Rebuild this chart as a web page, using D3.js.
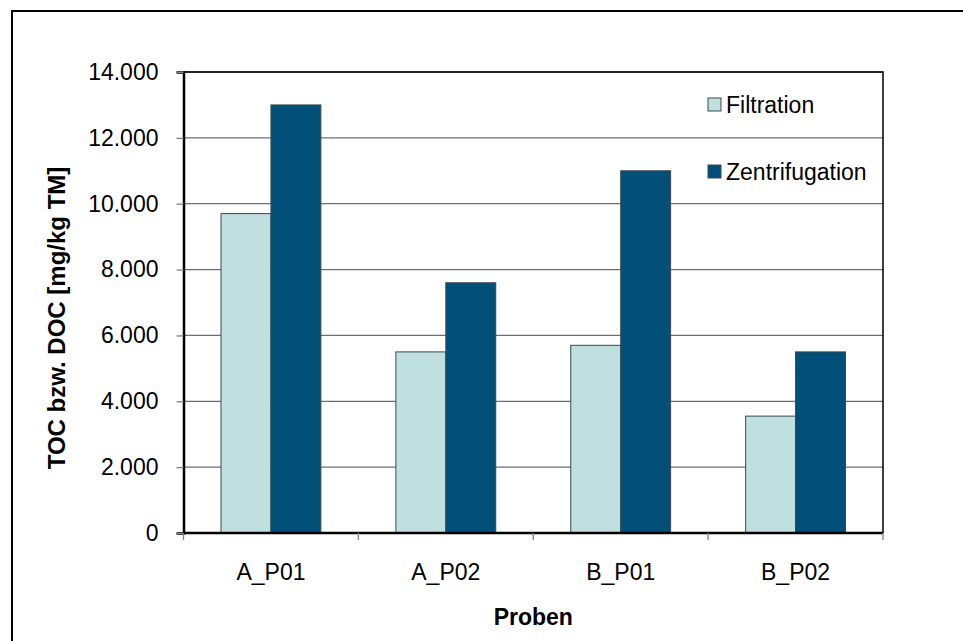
<!DOCTYPE html>
<html>
<head>
<meta charset="utf-8">
<script src="https://cdn.jsdelivr.net/npm/d3@7"></script>
<style>
	body { margin: 0; background: #fff; }
	svg { display: block; font-family: "Liberation Sans", Arial, sans-serif; }
</style>
</head>
<body>
<svg width="963" height="641"></svg>
<script>
// data
const categories = ['A_P01', 'A_P02', 'B_P01', 'B_P02'];
const series_names = ['Filtration', 'Zentrifugation'];
const filtration = [9700, 5500, 5700, 3550];
const zentrifugation = [13000, 7600, 11000, 5500];
const y_ticks = [0, 2000, 4000, 6000, 8000, 10000, 12000, 14000];
const colors = ['#c0dfdf', '#02507a'];

var svg = d3.select("svg");

// plot area (note: "top" is taken by window.top)
var p_left = 183.5, p_right = 883, p_top = 72, p_bottom = 533;

// german number format, 14.000
var de = d3.formatLocale({decimal: ",", thousands: ".", grouping: [3], currency: ["", " €"]});
var fmt = de.format(",");

var x0 = d3.scaleBand().domain(categories).range([p_left, p_right]).paddingInner(0).paddingOuter(0);
var x1 = d3.scaleBand().domain(series_names).range([37.5, x0.bandwidth() - 37.5]);
var y = d3.scaleLinear().domain([0, 14000]).range([p_bottom, p_top]);

// outer frame (runs off the picture on right and bottom)
svg.append("rect")
	.attr("x", 12).attr("y", 11)
	.attr("width", 1000).attr("height", 700)
	.attr("fill", "none").attr("stroke", "#000").attr("stroke-width", 2);

// gridlines
svg.append("g")
	.selectAll("line")
	.data(y_ticks.slice(1))
	.enter()
	.append("line")
	.attr("x1", p_left).attr("x2", p_right)
	.attr("y1", d => y(d)).attr("y2", d => y(d))
	.attr("stroke", "#6e6e6e").attr("stroke-width", 1.3);

// plot border top + right
svg.append("path")
	.attr("d", `M${p_left},${p_top}H${p_right}V${p_bottom}`)
	.attr("fill", "none").attr("stroke", "#000").attr("stroke-width", 1.5);

// bars
var data = categories.map((c, i) => ({cat: c, vals: [filtration[i], zentrifugation[i]]}));
svg.append("g")
	.selectAll("g")
	.data(data)
	.enter()
	.append("g")
	.attr("transform", d => `translate(${x0(d.cat)},0)`)
	.selectAll("rect")
	.data(d => d.vals.map((v, j) => ({name: series_names[j], value: v, j: j})))
	.enter()
	.append("rect")
	.attr("x", d => x1(d.name))
	.attr("y", d => y(d.value))
	.attr("width", x1.bandwidth())
	.attr("height", d => p_bottom - y(d.value))
	.attr("fill", d => colors[d.j])
	.attr("stroke", "#3a4a50").attr("stroke-width", 1);

// y axis
var yAxis = d3.axisLeft(y).tickValues(y_ticks).tickFormat(fmt).tickSize(7).tickPadding(18);
var gy = svg.append("g").attr("transform", `translate(${p_left},0)`).call(yAxis);
gy.select(".domain").attr("stroke", "#000").attr("stroke-width", 2.5);
gy.selectAll(".tick line").attr("stroke", "#808080").attr("stroke-width", 1.3);
gy.selectAll("text").attr("font-size", 23).attr("fill", "#000")
	.attr("font-family", '"Liberation Sans", Arial, sans-serif');

// x axis, ticks between the categories
var bounds = categories.map(c => x0(c)).concat([p_right]);
var gx = svg.append("g");
gx.append("line")
	.attr("x1", p_left).attr("x2", p_right).attr("y1", p_bottom).attr("y2", p_bottom)
	.attr("stroke", "#000").attr("stroke-width", 2.5);
gx.selectAll(".xt")
	.data(bounds)
	.enter()
	.append("line")
	.attr("class", "xt")
	.attr("x1", d => d).attr("x2", d => d)
	.attr("y1", p_bottom).attr("y2", p_bottom + 7)
	.attr("stroke", "#808080").attr("stroke-width", 1.3);
gx.selectAll("text")
	.data(categories)
	.enter()
	.append("text")
	.attr("x", d => x0(d) + x0.bandwidth() / 2)
	.attr("y", 580)
	.attr("text-anchor", "middle")
	.attr("font-size", 23)
	.text(d => d);

// axis titles
svg.append("text")
	.attr("x", (p_left + p_right) / 2).attr("y", 625)
	.attr("text-anchor", "middle")
	.attr("font-size", 23).attr("font-weight", "bold")
	.text("Proben");

svg.append("text")
	.attr("transform", `translate(65,318) rotate(-90)`)
	.attr("text-anchor", "middle")
	.attr("font-size", 24).attr("font-weight", "bold")
	.text("TOC bzw. DOC [mg/kg TM]");

// legend
var legend = svg.append("g")
	.selectAll("g")
	.data(series_names)
	.enter()
	.append("g")
	.attr("transform", (d, i) => `translate(708,${105 + i * 67})`);
legend.append("rect")
	.attr("x", 0).attr("y", -7)
	.attr("width", 13).attr("height", 13)
	.attr("fill", (d, i) => colors[i])
	.attr("stroke", "#3a4a50").attr("stroke-width", 1);
legend.append("text")
	.attr("x", 18).attr("y", 8)
	.attr("font-size", 23)
	.text(d => d);
</script>
</body>
</html>
